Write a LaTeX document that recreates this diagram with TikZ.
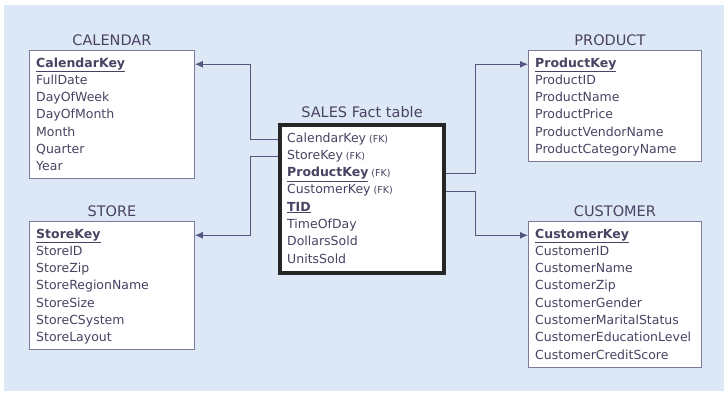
\documentclass[tikz,border=0pt]{standalone}
\usepackage{fontspec}
\setmainfont{DejaVu Sans}
\usetikzlibrary{positioning, arrows.meta}
\definecolor{bgblue}{HTML}{DCE8F6}
\definecolor{ink}{HTML}{4A4262}
\definecolor{frame}{HTML}{7C7A9C}
\definecolor{wire}{HTML}{55557F}
\newcommand{\fkey}{{\fontsize{9.5}{10}\selectfont\ (FK)}}
\newcommand{\pkey}[1]{\underline{\textbf{#1}}}
\newcommand{\rowskip}{17.3}

\begin{document}
\begin{tikzpicture}[
      x = 1pt, y = -1pt,
      font = \fontsize{12.5}{15}\selectfont,
      every node/.style = {inner sep = 0pt, text = ink},
      tbl/.style = {draw = frame, fill = white, line width = 0.9pt, anchor = north west},
      row/.style = {anchor = base west},
      title/.style = {font = \fontsize{14.5}{17}\selectfont},
      fk/.style = {draw = wire, line width = 1pt, -{Latex[length = 8pt, width = 7pt]}}]

      \useasboundingbox (0,0) rectangle (727,400);
      \fill[bgblue] (4,5) rectangle (724,391);

      % tables
      \node [tbl, minimum width = 165pt, minimum height = 128pt] (cal) at (29,50) {};
      \node [tbl, minimum width = 165pt, minimum height = 128pt] (store) at (29,221) {};
      \node [tbl, minimum width = 173pt, minimum height = 111pt] (prod) at (528,50) {};
      \node [tbl, minimum width = 173pt, minimum height = 146pt] (cust) at (528,221) {};
      \node [tbl, draw = black!85, line width = 4pt,
             minimum width = 164pt, minimum height = 148pt] (fact) at (278,123) {};

      \node [title, above = 4pt of cal] (cal-title) {CALENDAR};
      \node [title, above = 4pt of store] (store-title) {STORE};
      \node [title, above = 4pt of prod, xshift = -5pt] (prod-title) {PRODUCT};
      \node [title, above = 4pt of cust] (cust-title) {CUSTOMER};
      \node [title, above = 5pt of fact] (fact-title) {SALES Fact table};

      % rows
      \node [row] (cal-0) at (36,67) {\pkey{CalendarKey}};
      \foreach \f [count=\i] in {FullDate, DayOfWeek, DayOfMonth, Month, Quarter, Year}
        \node [row] (cal-\i) at (36, {67 + \i*\rowskip}) {\f};

      \node [row] (store-0) at (36,238) {\pkey{StoreKey}};
      \foreach \f [count=\i] in {StoreID, StoreZip, StoreRegionName, StoreSize, StoreCSystem, StoreLayout}
        \node [row] (store-\i) at (36, {238 + \i*\rowskip}) {\f};

      \node [row] (prod-0) at (535,67) {\pkey{ProductKey}};
      \foreach \f [count=\i] in {ProductID, ProductName, ProductPrice, ProductVendorName, ProductCategoryName}
        \node [row] (prod-\i) at (535, {67 + \i*\rowskip}) {\f};

      \node [row] (cust-0) at (535,238) {\pkey{CustomerKey}};
      \foreach \f [count=\i] in {CustomerID, CustomerName, CustomerZip, CustomerGender,
                                 CustomerMaritalStatus, CustomerEducationLevel, CustomerCreditScore}
        \node [row] (cust-\i) at (535, {238 + \i*\rowskip}) {\f};

      \foreach \f [count=\i] in {CalendarKey\fkey, StoreKey\fkey, \pkey{ProductKey}\fkey,
                                 CustomerKey\fkey, \pkey{TID}, TimeOfDay, DollarsSold, UnitsSold}
        \node [row] (fact-\i) at (287, {142 + (\i-1)*\rowskip}) {\f};

      % foreign keys
      \draw [fk] (fact.west |- fact-1.mid) -- ++(-28,0) |- (cal.east |- cal-0.mid);
      \draw [fk] (fact.west |- fact-2.mid) -- ++(-28,0) |- (store.east |- store-0.mid);
      \draw [fk] (fact.east |- fact-3.mid) -- ++(29,0) |- (prod.west |- prod-0.mid);
      \draw [fk] (fact.east |- fact-4.mid) -- ++(29,0) |- (cust.west |- cust-0.mid);
\end{tikzpicture}
\end{document}
